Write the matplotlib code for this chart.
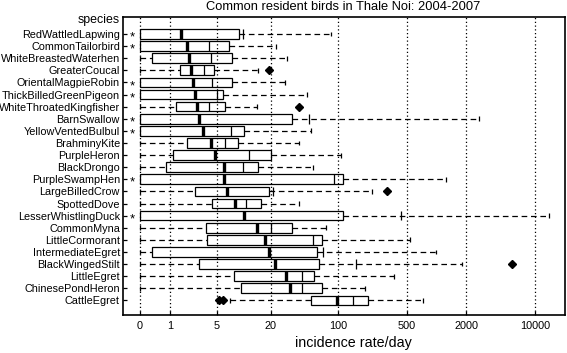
import numpy as np
import matplotlib
matplotlib.use("Agg")
from matplotlib import pyplot as plt

plt.rcParams['font.family'] = ['Liberation Sans', 'DejaVu Sans']

# species, top to bottom
species = ['RedWattledLapwing', 'CommonTailorbird', 'WhiteBreastedWaterhen', 'GreaterCoucal',
           'OrientalMagpieRobin', 'ThickBilledGreenPigeon', 'WhiteThroatedKingfisher', 'BarnSwallow',
           'YellowVentedBulbul', 'BrahminyKite', 'PurpleHeron', 'BlackDrongo', 'PurpleSwampHen',
           'LargeBilledCrow', 'SpottedDove', 'LesserWhistlingDuck', 'CommonMyna', 'LittleCormorant',
           'IntermediateEgret', 'BlackWingedStilt', 'LittleEgret', 'ChinesePondHeron', 'CattleEgret']

# rows flagged with an asterisk
starred = [1, 1, 0, 0, 1, 1, 0, 1, 1, 0, 0, 0, 1, 0, 0, 1, 0, 0, 0, 0, 0, 0, 0]

# incidence rate/day values
whisk_lo = [None, None, 0, 0, None, None, 0, None, None, 0, 0, 0, None,
            0, 0, None, 0, 0, 0, 0, 0, 0, 7.2]
box_lo = [0, 0, 0.33, 1.54, 0, 0, 1.33, 0, 0, 2.0, 1.17, 0.83, 0,
          2.6, 4.36, 0, 3.7, 3.8, 0.33, 3.0, 7.95, 9.5, 52.5]
medians = [1.58, 1.97, 2.11, 2.29, 2.47, 2.61, 2.78, 2.96, 3.31, 4.2, 4.71, 6.09, 6.14,
           6.55, 8.23, 10.3, 14.3, 17.4, 19.2, 22.3, 28.9, 32.0, 98.5]
means = [10.1, 3.96, 4.2, 3.48, 4.36, 4.98, 4.03, 50.8, 7.4, 6.21, 11.8, 9.96, 91.8,
         21.4, 10.8, 435, 20.1, 55.9, 69.8, 153, 43.2, 42.4, 141.5]
box_hi = [9.13, 6.97, 7.55, 4.61, 7.55, 5.93, 6.26, 33.6, 10.3, 8.9, 20.1, 14.8, 113.5,
          19.4, 15.8, 113.5, 33.6, 68.2, 61.4, 64.4, 56.8, 69.2, 204]
whisk_hi = [84, 22.7, 29.5, 14.8, 28.4, 47.7, 14.2, 2728, 53, 39.5, 107.5, 55.9, 1245,
            224, 39.7, 13860, 75.5, 541, 993, 1809, 375, 189, 738]
outliers = [[], [], [], [19.4], [], [], [39.3], [], [], [], [], [], [],
            [314], [], [], [], [], [], [5807], [], [], [5.3, 5.9]]

xticks = [0, 1, 5, 20, 100, 500, 2000, 10000]


def fwd(v):
    return np.log10(np.asarray(v, dtype=float) + 1)


def inv(u):
    return 10 ** np.asarray(u, dtype=float) - 1


fig = plt.figure(figsize=(5.67, 3.53), dpi=100)
ax = fig.add_axes([0.2164, 0.1076, 0.7801, 0.8451])
ax.set_xscale('function', functions=(fwd, inv))

h = 0.8      # box height
ch = 0.4     # cap height
dash = (0, (4.5, 3))
lw = 0.9

y = np.arange(len(species))

# boxes
ax.barh(y, np.array(box_hi) - np.array(box_lo), left=box_lo, height=h,
        fill=False, edgecolor='black', linewidth=lw, zorder=3)
# medians and mean lines
ax.vlines(medians, y - h / 2, y + h / 2, color='black', linewidth=2.4, zorder=4)
ax.vlines(means, y - h / 2, y + h / 2, color='black', linewidth=lw, zorder=4)

# upper whiskers
ax.hlines(y, box_hi, whisk_hi, color='black', linewidth=lw, linestyles=dash, zorder=3)
ax.vlines(whisk_hi, y - ch / 2, y + ch / 2, color='black', linewidth=lw, zorder=3)

# lower whiskers
for i in range(len(species)):
    if whisk_lo[i] is not None:
        ax.hlines(i, whisk_lo[i], box_lo[i], color='black', linewidth=lw,
                  linestyles=dash, zorder=3)
        ax.vlines(whisk_lo[i], i - ch / 2, i + ch / 2, color='black',
                  linewidth=lw, zorder=3)
    for o in outliers[i]:
        ax.plot(o, i, 'D', color='black', markersize=3.6, zorder=5)
    if starred[i]:
        ax.text(-0.17, i + 0.3, '*', ha='center', va='center', fontsize=9.5)

ax.set_xlim(-0.332, 20120)
ax.set_ylim(23.21, -1.43)
ax.set_xticks(xticks)
ax.set_xticklabels([str(t) for t in xticks], fontsize=7.8)
ax.set_yticks(y)
ax.set_yticklabels(species, fontsize=7.8)
ax.tick_params(axis='y', direction='in', length=3, width=lw, pad=2)
ax.tick_params(axis='x', direction='in', length=3, width=lw, pad=4)
ax.xaxis.set_minor_locator(matplotlib.ticker.NullLocator())
ax.grid(axis='x', color='black', linestyle=(0, (1, 2)), linewidth=lw)
ax.set_axisbelow(True)
for s in ax.spines.values():
    s.set_linewidth(1.2)

fig.text(343.5 / 567, 1 - 7.5 / 353, 'Common resident birds in Thale Noi: 2004-2007',
         ha='center', va='center', fontsize=9.3)
fig.text(119.5 / 567, 1 - 20 / 353, 'species', ha='right', va='center', fontsize=8.9)
fig.text(353 / 567, 1 - 343 / 353, 'incidence rate/day', ha='center', va='center', fontsize=10.3)

fig.savefig('out.png', dpi=100)
